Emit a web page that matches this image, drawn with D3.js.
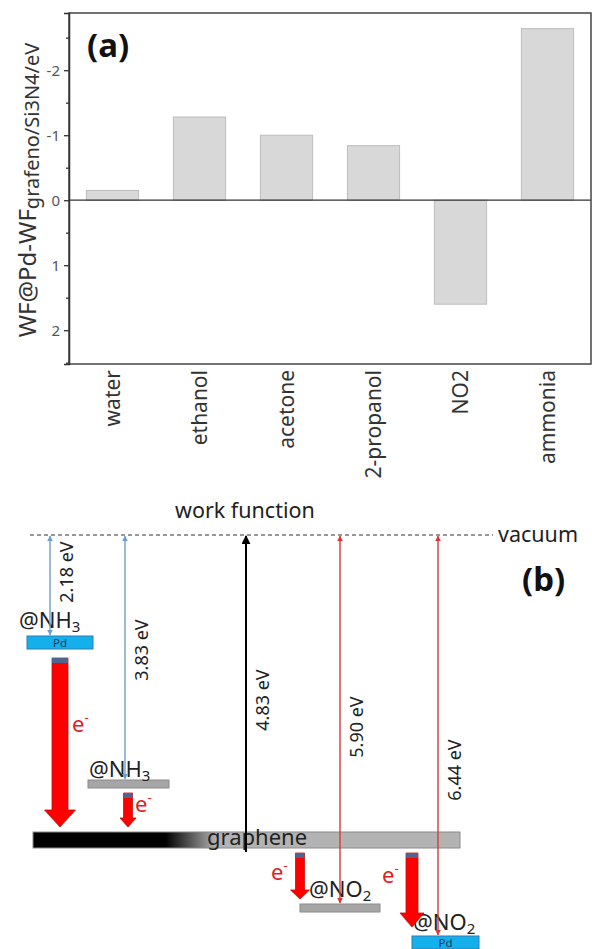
<!DOCTYPE html>
<html>
<head>
<meta charset="utf-8">
<script src="https://cdn.jsdelivr.net/npm/d3@7"></script>
<style>
  html, body { margin: 0; padding: 0; background: #fff; }
  svg { display: block; font-family: "Noto Sans", "Open Sans", sans-serif; }
</style>
</head>
<body>
<svg id="chart" width="592" height="949"></svg>
<script>
// ---------- Data: panel (a) ----------
const categories = ["water", "ethanol", "acetone", "2-propanol", "NO2", "ammonia"];
const wfShift = [-0.15, -1.28, -1.0, -0.84, 1.6, -2.64];
const yTicks = [-2, -1, 0, 1, 2];
const yMinorTicks = [-2.5, -1.5, -0.5, 0.5, 1.5, 2.5];

// ---------- Data: panel (b) ----------
const levelNames = ["@NH3", "@NH3", "graphene", "@NO2", "@NO2"];
const levelEnergies = [2.18, 3.83, 4.83, 5.90, 6.44];
const levelKinds = ["pd", "gas", "graphene", "gas", "pd"];
const wfLabels = ["2.18 eV", "3.83 eV", "4.83 eV", "5.90 eV", "6.44 eV"];
const wfColors = ["blue", "blue", "black", "red", "red"];
const transferFrom = [0, 1, 2, 2];
const transferTo = [2, 2, 3, 4];

const svg = d3.select("#chart");

// ================= Panel (a) =================
const plot = { left: 69, right: 591, top: 13, bottom: 364 };
const x = d3.scaleBand().domain(categories).range([plot.left, plot.right]).paddingInner(0.4).paddingOuter(0.2);
const y = d3.scaleLinear().domain([-2.88, 2.52]).range([plot.top, plot.bottom]);

const gA = svg.append("g");

gA.selectAll("rect.bar").data(categories).join("rect")
  .attr("class", "bar")
  .attr("x", d => x(d))
  .attr("width", x.bandwidth())
  .attr("y", (d, i) => Math.min(y(wfShift[i]), y(0)))
  .attr("height", (d, i) => Math.abs(y(wfShift[i]) - y(0)))
  .attr("fill", "#d8d8d8")
  .attr("stroke", "#bdbdbd")
  .attr("stroke-width", 1);

gA.append("line")
  .attr("x1", plot.left).attr("x2", plot.right)
  .attr("y1", y(0)).attr("y2", y(0))
  .attr("stroke", "#333").attr("stroke-width", 1.3);

gA.append("rect")
  .attr("x", plot.left).attr("y", plot.top)
  .attr("width", plot.right - plot.left).attr("height", plot.bottom - plot.top)
  .attr("fill", "none").attr("stroke", "#444").attr("stroke-width", 1.5);

const yAxis = d3.axisLeft(y).tickValues(yTicks).tickSize(5).tickPadding(4).tickFormat(d => String(d));
const gy = gA.append("g").attr("transform", `translate(${plot.left},0)`).call(yAxis);
gy.select(".domain").attr("stroke", "#333").attr("stroke-width", 1.5);
gy.selectAll(".tick line").attr("stroke", "#333").attr("stroke-width", 1.3);
gy.selectAll(".tick text").attr("font-size", 15).attr("fill", "#555").attr("font-family", "Noto Sans");
const yAxisMinor = d3.axisLeft(y).tickValues(yMinorTicks).tickSize(3).tickFormat("");
const gym = gA.append("g").attr("transform", `translate(${plot.left},0)`).call(yAxisMinor);
gym.select(".domain").remove();
gym.selectAll(".tick line").attr("stroke", "#333").attr("stroke-width", 1.3);

gA.selectAll("text.xl").data(categories).join("text")
  .attr("class", "xl")
  .attr("transform", d => `translate(${x(d) + x.bandwidth() / 2},370) rotate(-90)`)
  .attr("text-anchor", "end")
  .attr("dy", "0.35em")
  .attr("font-size", 21)
  .attr("fill", "#333")
  .text(d => d);

const yl = gA.append("text")
  .attr("transform", "translate(36,190) rotate(-90)")
  .attr("text-anchor", "middle")
  .attr("fill", "#333");
yl.append("tspan").attr("font-size", 24).text("WF@Pd-WF");
yl.append("tspan").attr("font-size", 20).attr("dy", 3).text("grafeno/Si3N4/eV");

gA.append("text").attr("x", 87).attr("y", 57)
  .attr("font-size", 33).attr("font-weight", "bold").attr("fill", "#111").text("(a)");

// ================= Panel (b) =================
const gB = svg.append("g");
const vacuumY = 535;
const ey = d3.scaleLinear().domain([0].concat(levelEnergies)).range([vacuumY, 636, 780, 832, 904, 936]);

const levelX = [[27, 93], [88, 169], [33, 460], [300, 380], [412, 479]];
const levelH = { pd: 13, gas: 8, graphene: 16 };
const arrowX = [50, 125, 246, 340, 438];

const defs = svg.append("defs");
const colorMap = { blue: "#6b9fd1", red: "#d8383a", black: "#000" };
Object.entries(colorMap).forEach(([k, c]) => {
  defs.append("marker").attr("id", "ah-" + k)
    .attr("viewBox", "0 0 10 10").attr("refX", 9).attr("refY", 5)
    .attr("markerWidth", k === "black" ? 4.5 : 6).attr("markerHeight", k === "black" ? 4.5 : 6)
    .attr("markerUnits", k === "black" ? "strokeWidth" : "userSpaceOnUse")
    .attr("orient", "auto-start-reverse")
    .append("path").attr("d", "M0,0 L10,5 L0,10 z").attr("fill", c);
});
const grad = defs.append("linearGradient").attr("id", "gGraphene")
  .attr("gradientUnits", "userSpaceOnUse")
  .attr("x1", levelX[2][0]).attr("x2", levelX[2][1]).attr("y1", 0).attr("y2", 0);
grad.append("stop").attr("offset", 0).attr("stop-color", "#000");
grad.append("stop").attr("offset", 0.31).attr("stop-color", "#000");
grad.append("stop").attr("offset", 0.43).attr("stop-color", "#b3b3b3");
grad.append("stop").attr("offset", 1).attr("stop-color", "#b3b3b3");

gB.append("text").attr("x", 175).attr("y", 518).attr("font-size", 21.5).attr("fill", "#222").text("work function");
gB.append("line").attr("x1", 30).attr("x2", 493).attr("y1", vacuumY).attr("y2", vacuumY)
  .attr("stroke", "#333").attr("stroke-width", 1).attr("stroke-dasharray", "4,3");
gB.append("text").attr("x", 498).attr("y", 542).attr("font-size", 21.5).attr("fill", "#222").text("vacuum");
gB.append("text").attr("x", 522).attr("y", 591).attr("font-size", 33).attr("font-weight", "bold").attr("fill", "#111").text("(b)");

levelEnergies.forEach((e, i) => {
  const kind = levelKinds[i];
  const top = ey(e);
  const fill = kind === "pd" ? "#14b0ec" : kind === "gas" ? "#a6a6a6" : "url(#gGraphene)";
  const stroke = kind === "pd" ? "#2b7db5" : "#8a8a8a";
  gB.append("rect").attr("x", levelX[i][0]).attr("y", top)
    .attr("width", levelX[i][1] - levelX[i][0]).attr("height", levelH[kind])
    .attr("fill", fill).attr("stroke", stroke).attr("stroke-width", 1);
  if (kind === "pd") {
    gB.append("text").attr("x", (levelX[i][0] + levelX[i][1]) / 2).attr("y", top + 10.5)
      .attr("text-anchor", "middle").attr("font-size", 11.5).attr("fill", "#1d3a5a").text("Pd");
  }
});

function chemLabel(xp, yp, name) {
  const t = gB.append("text").attr("x", xp).attr("y", yp).attr("font-size", 22).attr("fill", "#222");
  const m = name.match(/^(.*?)(\d)$/);
  if (m) {
    t.append("tspan").text(m[1]);
    t.append("tspan").attr("font-size", 15).attr("dy", 4).text(m[2]);
  } else {
    t.text(name);
  }
}
const labelPos = [[19, -8], [89, -3], [207, 13], [309, -7], [413, -6]];
levelNames.forEach((n, i) => {
  chemLabel(labelPos[i][0], ey(levelEnergies[i]) + labelPos[i][1], n);
});

const shaftW = [16, 9, 9, 12];
const headW = [31, 16, 19, 24];
const headL = [17, 9, 9, 14];
const arrowCx = [60, 128, 300, 412];
const eLabelPos = [[72, 732], [135, 812], [271, 880], [382, 883]];
transferFrom.forEach((f, i) => {
  const fromBottom = ey(levelEnergies[f]) + levelH[levelKinds[f]];
  const y0 = fromBottom + (i === 0 ? 9 : 5);
  const y1 = ey(levelEnergies[transferTo[i]]) - (i === 3 ? 9 : 5);
  const cx = arrowCx[i], sw = shaftW[i] / 2, hw = headW[i] / 2, hl = headL[i];
  const pts = [[cx - sw, y0], [cx + sw, y0], [cx + sw, y1 - hl], [cx + hw, y1 - hl], [cx, y1], [cx - hw, y1 - hl], [cx - sw, y1 - hl]];
  gB.append("polygon").attr("points", pts.map(p => p.join(",")).join(" "))
    .attr("fill", "#ff0000").attr("stroke", "#c01010").attr("stroke-width", 0.8);
  gB.append("rect").attr("x", cx - sw).attr("y", y0).attr("width", 2 * sw).attr("height", 5)
    .attr("fill", "#4e6590");
  const t = gB.append("text").attr("x", eLabelPos[i][0]).attr("y", eLabelPos[i][1])
    .attr("font-size", 22).attr("fill", "#e0201c");
  t.append("tspan").text("e");
  t.append("tspan").attr("font-size", 13).attr("dy", -10).text("-");
});

const labelOffset = 23;
const labelMidY = [572, 650, 700, 727, 770];
levelEnergies.forEach((e, i) => {
  const col = wfColors[i];
  const c = colorMap[col];
  const isBlack = col === "black";
  const yEnd = isBlack ? ey(e) + levelH.graphene + 4 : ey(e) - 1;
  const line = gB.append("line")
    .attr("x1", arrowX[i]).attr("x2", arrowX[i])
    .attr("y1", yEnd).attr("y2", vacuumY + 1)
    .attr("stroke", c).attr("stroke-width", isBlack ? 2 : 1.4)
    .attr("marker-end", `url(#ah-${col})`);
  if (!isBlack) line.attr("marker-start", `url(#ah-${col})`);
  gB.append("text")
    .attr("transform", `translate(${arrowX[i] + labelOffset},${labelMidY[i]}) rotate(-90)`)
    .attr("text-anchor", "middle").attr("font-size", 18).attr("fill", "#222")
    .text(wfLabels[i]);
});
</script>
</body>
</html>
